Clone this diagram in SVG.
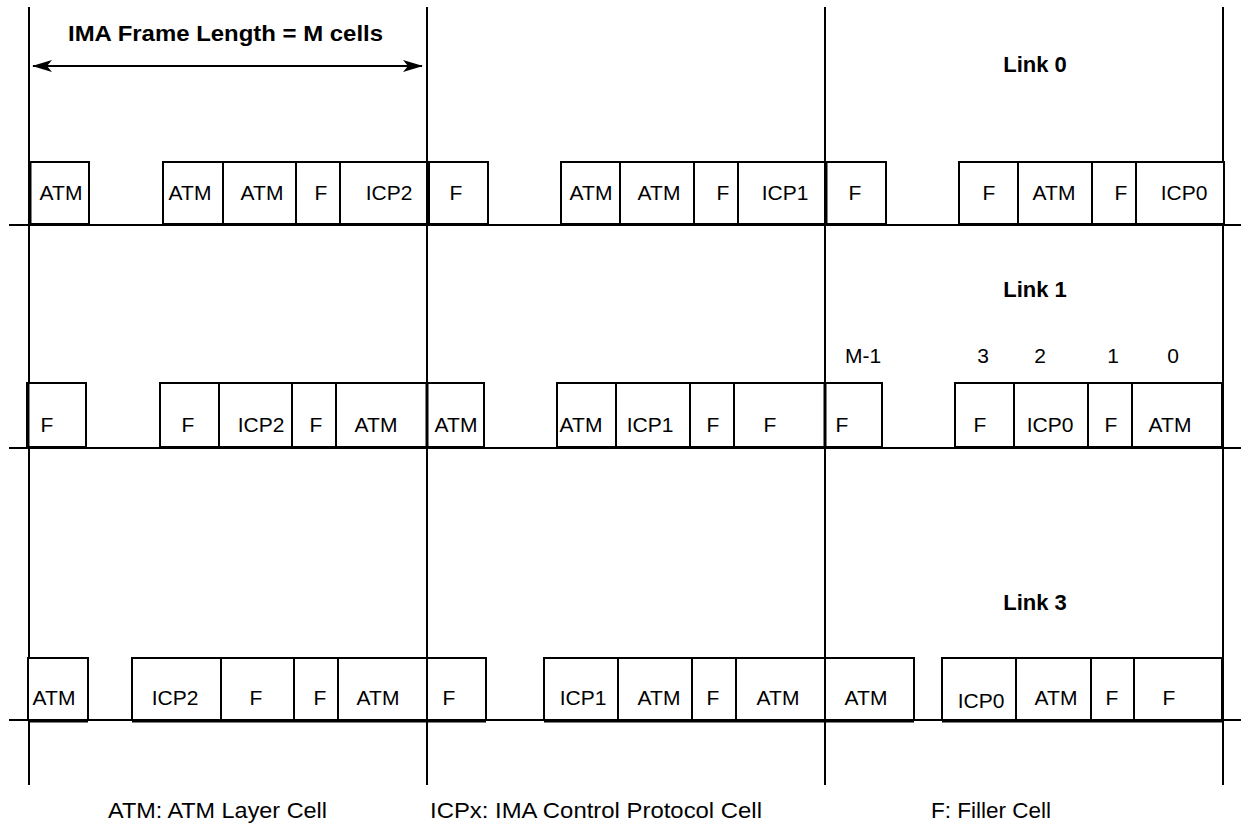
<svg xmlns="http://www.w3.org/2000/svg" width="1241" height="829" viewBox="0 0 1241 829">
<defs>
<style>
.bg{fill:#fff}
.ln{stroke:#000;stroke-width:2;fill:none}
.thk{stroke:#000;stroke-width:3;fill:none}
.cell rect{fill:#fff;stroke:#000;stroke-width:2}
.cell text,.t{font-family:"Liberation Sans",Arial,Helvetica,sans-serif;font-size:21px;fill:#000;text-anchor:middle}
.b{font-family:"Liberation Sans",Arial,Helvetica,sans-serif;font-size:22px;font-weight:bold;fill:#000;text-anchor:middle}
.lg{font-family:"Liberation Sans",Arial,Helvetica,sans-serif;font-size:22px;fill:#000}
</style>
<marker id="ah" viewBox="0 0 20 12" refX="19" refY="6" markerWidth="20" markerHeight="12" markerUnits="userSpaceOnUse" orient="auto-start-reverse">
<path d="M0,0 L20,6 L0,12 L5,6 Z" fill="#000"/>
</marker>
</defs>
<rect class="bg" x="0" y="0" width="1241" height="829"/>

<g id="connectors">
<line class="ln" x1="29" y1="7" x2="29" y2="785"/>
<line class="ln" x1="427" y1="7" x2="427" y2="785"/>
<line class="ln" x1="825" y1="7" x2="825" y2="785"/>
<line class="ln" x1="1223" y1="7" x2="1223" y2="785"/>
<line class="ln" x1="9" y1="225" x2="1241" y2="225"/>
<line class="ln" x1="9" y1="448" x2="1241" y2="448"/>
<line class="ln" x1="9" y1="720" x2="1241" y2="720"/>
<line class="ln" x1="33" y1="66" x2="422" y2="66" marker-start="url(#ah)" marker-end="url(#ah)"/>
</g>

<g id="title"><text class="b" x="225.5" y="41" textLength="315" lengthAdjust="spacingAndGlyphs">IMA Frame Length = M cells</text></g>
<g id="link0-label"><text class="b" x="1035" y="72">Link 0</text></g>
<g id="link1-label"><text class="b" x="1035" y="297">Link 1</text></g>
<g id="link3-label"><text class="b" x="1035" y="610">Link 3</text></g>
<g id="cell-index-labels">
<text class="t" x="863" y="363">M-1</text>
<text class="t" x="983" y="363">3</text>
<text class="t" x="1040" y="363">2</text>
<text class="t" x="1113" y="363">1</text>
<text class="t" x="1173" y="363">0</text>
</g>

<g id="link0">
<g id="l0c1" class="cell"><rect x="30" y="162" width="59" height="62"/><text x="61" y="200">ATM</text></g>
<g id="l0c2" class="cell"><rect x="163" y="162" width="60" height="62"/><text x="190" y="200">ATM</text></g>
<g id="l0c3" class="cell"><rect x="223" y="162" width="73" height="62"/><text x="262" y="200">ATM</text></g>
<g id="l0c4" class="cell"><rect x="296" y="162" width="44" height="62"/><text x="321" y="200">F</text></g>
<g id="l0c5" class="cell"><rect x="340" y="162" width="87" height="62"/><text x="389" y="200">ICP2</text></g>
<g id="l0c6" class="cell"><rect x="429" y="162" width="59" height="62"/><text x="456" y="200">F</text></g>
<g id="l0c7" class="cell"><rect x="561" y="162" width="59" height="62"/><text x="591" y="200">ATM</text></g>
<g id="l0c8" class="cell"><rect x="620" y="162" width="74" height="62"/><text x="659" y="200">ATM</text></g>
<g id="l0c9" class="cell"><rect x="694" y="162" width="44" height="62"/><text x="723" y="200">F</text></g>
<g id="l0c10" class="cell"><rect x="738" y="162" width="87" height="62"/><text x="785" y="200">ICP1</text></g>
<g id="l0c11" class="cell"><rect x="826" y="162" width="60" height="62"/><text x="855" y="200">F</text></g>
<g id="l0c12" class="cell"><rect x="959" y="162" width="59" height="62"/><text x="989" y="200">F</text></g>
<g id="l0c13" class="cell"><rect x="1018" y="162" width="74" height="62"/><text x="1054" y="200">ATM</text></g>
<g id="l0c14" class="cell"><rect x="1092" y="162" width="44" height="62"/><text x="1121" y="200">F</text></g>
<g id="l0c15" class="cell"><rect x="1136" y="162" width="88" height="62"/><text x="1184" y="200">ICP0</text></g>
</g>

<g id="link1">
<g id="l1c1" class="cell"><rect x="27" y="383" width="59" height="64"/><text x="47" y="432">F</text></g>
<g id="l1c2" class="cell"><rect x="160" y="383" width="59" height="64"/><text x="188" y="432">F</text></g>
<g id="l1c3" class="cell"><rect x="219" y="383" width="73" height="64"/><text x="261" y="432">ICP2</text></g>
<g id="l1c4" class="cell"><rect x="292" y="383" width="44" height="64"/><text x="316" y="432">F</text></g>
<g id="l1c5" class="cell"><rect x="336" y="383" width="91" height="64"/><text x="376" y="432">ATM</text></g>
<g id="l1c6" class="cell"><rect x="427" y="383" width="57" height="64"/><text x="456" y="432">ATM</text></g>
<g id="l1c7" class="cell"><rect x="557" y="383" width="59" height="64"/><text x="581" y="432">ATM</text></g>
<g id="l1c8" class="cell"><rect x="616" y="383" width="74" height="64"/><text x="650" y="432">ICP1</text></g>
<g id="l1c9" class="cell"><rect x="690" y="383" width="44" height="64"/><text x="713" y="432">F</text></g>
<g id="l1c10" class="cell"><rect x="734" y="383" width="91" height="64"/><text x="770" y="432">F</text></g>
<g id="l1c11" class="cell"><rect x="825" y="383" width="57" height="64"/><text x="842" y="432">F</text></g>
<g id="l1c12" class="cell"><rect x="955" y="383" width="59" height="64"/><text x="980" y="432">F</text></g>
<g id="l1c13" class="cell"><rect x="1014" y="383" width="74" height="64"/><text x="1050" y="432">ICP0</text></g>
<g id="l1c14" class="cell"><rect x="1088" y="383" width="44" height="64"/><text x="1111" y="432">F</text></g>
<g id="l1c15" class="cell"><rect x="1132" y="383" width="90" height="64"/><text x="1170" y="432">ATM</text></g>
</g>

<g id="link3">
<g id="l3c1" class="cell"><rect x="28" y="658" width="60" height="62"/><text x="54" y="705">ATM</text></g>
<g id="l3c2" class="cell"><rect x="132" y="658" width="89" height="62"/><text x="175" y="705">ICP2</text></g>
<g id="l3c3" class="cell"><rect x="221" y="658" width="73" height="62"/><text x="256" y="705">F</text></g>
<g id="l3c4" class="cell"><rect x="294" y="658" width="44" height="62"/><text x="320" y="705">F</text></g>
<g id="l3c5" class="cell"><rect x="338" y="658" width="89" height="62"/><text x="378" y="705">ATM</text></g>
<g id="l3c6" class="cell"><rect x="427" y="658" width="59" height="62"/><text x="449" y="705">F</text></g>
<g id="l3c7" class="cell"><rect x="544" y="658" width="74" height="62"/><text x="583" y="705">ICP1</text></g>
<g id="l3c8" class="cell"><rect x="618" y="658" width="74" height="62"/><text x="659" y="705">ATM</text></g>
<g id="l3c9" class="cell"><rect x="692" y="658" width="44" height="62"/><text x="713" y="705">F</text></g>
<g id="l3c10" class="cell"><rect x="736" y="658" width="89" height="62"/><text x="778" y="705">ATM</text></g>
<g id="l3c11" class="cell"><rect x="825" y="658" width="89" height="62"/><text x="866" y="705">ATM</text></g>
<g id="l3c12" class="cell"><rect x="942" y="658" width="74" height="62"/><text x="981" y="708">ICP0</text></g>
<g id="l3c13" class="cell"><rect x="1016" y="658" width="75" height="62"/><text x="1056" y="705">ATM</text></g>
<g id="l3c14" class="cell"><rect x="1091" y="658" width="43" height="62"/><text x="1112" y="705">F</text></g>
<g id="l3c15" class="cell"><rect x="1134" y="658" width="88" height="62"/><text x="1169" y="705">F</text></g>
</g>

<g id="accents">
<line class="thk" x1="30" y1="162" x2="30" y2="225"/>
<line class="thk" x1="428" y1="162" x2="428" y2="225"/>
<line class="thk" x1="826" y1="162" x2="826" y2="225"/>
<line class="thk" x1="28" y1="383" x2="28" y2="448"/>
<line class="thk" x1="427" y1="383" x2="427" y2="448"/>
<line class="thk" x1="825" y1="383" x2="825" y2="448"/>
<line class="thk" x1="28" y1="721" x2="88" y2="721"/>
<line class="thk" x1="132" y1="721" x2="486" y2="721"/>
<line class="thk" x1="544" y1="721" x2="914" y2="721"/>
<line class="thk" x1="942" y1="721" x2="1222" y2="721"/>
</g>

<g id="legend">
<text class="lg" x="108" y="818" textLength="219" lengthAdjust="spacingAndGlyphs">ATM: ATM Layer Cell</text>
<text class="lg" x="430" y="818" textLength="332" lengthAdjust="spacingAndGlyphs">ICPx: IMA Control Protocol Cell</text>
<text class="lg" x="931" y="818" textLength="120" lengthAdjust="spacingAndGlyphs">F: Filler Cell</text>
</g>
</svg>
